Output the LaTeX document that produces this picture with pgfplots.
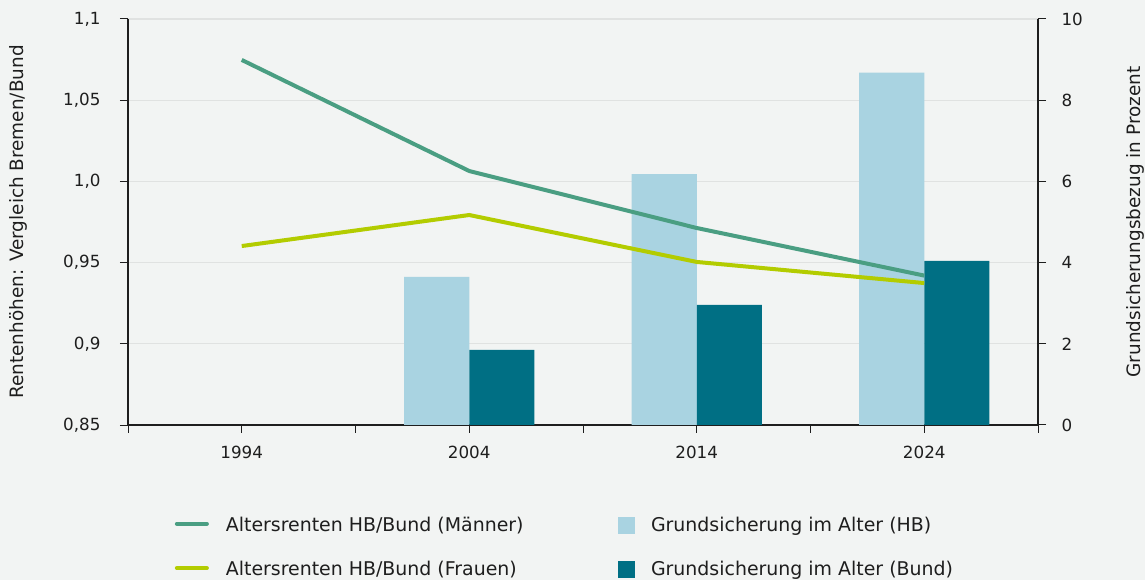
\documentclass[border=0pt]{standalone}
\usepackage{fontspec}
\setmainfont{DejaVu Sans}
\usepackage{pgfplots}
\pgfplotsset{compat=1.18}
\definecolor{bg}{HTML}{F2F4F3}
\definecolor{maen}{HTML}{4A9E82}
\definecolor{frau}{HTML}{B3CC00}
\definecolor{hb}{HTML}{A9D3E1}
\definecolor{bund}{HTML}{006F84}
\definecolor{gridc}{HTML}{E0E2E1}
\definecolor{axc}{HTML}{1E1E1E}
\pgfplotsset{
  lineleg/.style={legend image code/.code={\draw[##1] (1bp,1bp) -- (31bp,1bp);}},
  boxleg/.style={legend image code/.code={\fill[##1] (0bp,-8bp) rectangle (16bp,8bp);}},
}

\pgfplotstableread{
x hb bund
1 3.65 1.85
2 6.18 2.96
3 8.68 4.04
}\bars
\pgfplotstableread{
x m f
0 1.0748 0.9602
1 1.0064 0.9793
2 0.9713 0.9504
3 0.9420 0.9374
}\lines

\begin{document}
\begin{tikzpicture}
\fill[bg] (0,0) rectangle (1145bp,580bp);
\begin{axis}[
  scale only axis, width=910bp, height=406bp,
  at={(128bp,155bp)}, anchor=south west,
  xmin=-0.5, xmax=3.5, ymin=0, ymax=10,
  axis x line*=bottom, axis y line*=right,
  xtick={0,1,2,3}, xticklabels={1994,2004,2014,2024},
  minor xtick={-0.5,0.5,1.5,2.5,3.5},
  ytick={0,2,4,6,8,10}, yticklabels={0,2,4,6,8,10},
  ymajorgrids, grid style={gridc, line width=1.3bp},
  tick align=outside, major tick length=8bp, minor tick length=8bp,
  every tick/.style={axc, line width=1bp},
  axis line style={axc, line width=1.2bp, -},
  tick label style={font=\fontsize{16.8}{19}\selectfont, text=axc},
  x tick label style={yshift=-10bp},
  y tick label style={xshift=12bp},
  ylabel={Grundsicherungsbezug in Prozent},
  ylabel style={at={(axis description cs:1.107,0.5)}, anchor=center, font=\fontsize{18.5}{22}\selectfont, text=axc},
  clip=false,
]
\addplot[ybar, fill=hb, draw=none, bar width=0.286, bar shift=-0.143] table[x=x,y=hb]{\bars};
\addplot[ybar, fill=bund, draw=none, bar width=0.286, bar shift=0.143] table[x=x,y=bund]{\bars};
\end{axis}
\begin{axis}[
  scale only axis, width=910bp, height=406bp,
  at={(128bp,155bp)}, anchor=south west,
  xmin=-0.5, xmax=3.5, ymin=0.85, ymax=1.1,
  hide x axis, axis y line*=left,
  ytick={0.85,0.9,0.95,1.0,1.05,1.1},
  yticklabels={{0,85},{0,9},{0,95},{1,0},{1,05},{1,1}},
  tick align=outside, major tick length=8bp,
  every tick/.style={axc, line width=1bp},
  axis line style={axc, line width=1.2bp, -},
  tick label style={font=\fontsize{16.8}{19}\selectfont, text=axc},
  y tick label style={xshift=-16bp},
  ylabel={Rentenhöhen: Vergleich Bremen/Bund},
  ylabel style={at={(axis description cs:-0.12,0.5)}, anchor=center, font=\fontsize{18.5}{22}\selectfont, text=axc},
  legend columns=2,
  legend style={at={(axis description cs:0.048,-0.22)}, anchor=north west,
    draw=none, fill=none, font=\fontsize{19}{22}\selectfont, text=axc,
    nodes={inner sep=0pt}, column sep=17bp, row sep=28bp,
    /tikz/every even column/.append style={column sep=94bp}},
  legend cell align=left,
]
\addplot[maen, line width=4bp, forget plot] table[x=x,y=m]{\lines};
\addplot[frau, line width=4bp, forget plot] table[x=x,y=f]{\lines};
\addlegendimage{maen, line width=4bp, line cap=round, lineleg}
\addlegendentry{Altersrenten HB/Bund (Männer)}
\addlegendimage{hb, boxleg}
\addlegendentry{Grundsicherung im Alter (HB)}
\addlegendimage{frau, line width=4bp, line cap=round, lineleg}
\addlegendentry{Altersrenten HB/Bund (Frauen)}
\addlegendimage{bund, boxleg}
\addlegendentry{Grundsicherung im Alter (Bund)}
\end{axis}
\pgfresetboundingbox
\path[use as bounding box] (0,0) rectangle (1145bp,580bp);
\end{tikzpicture}
\end{document}
